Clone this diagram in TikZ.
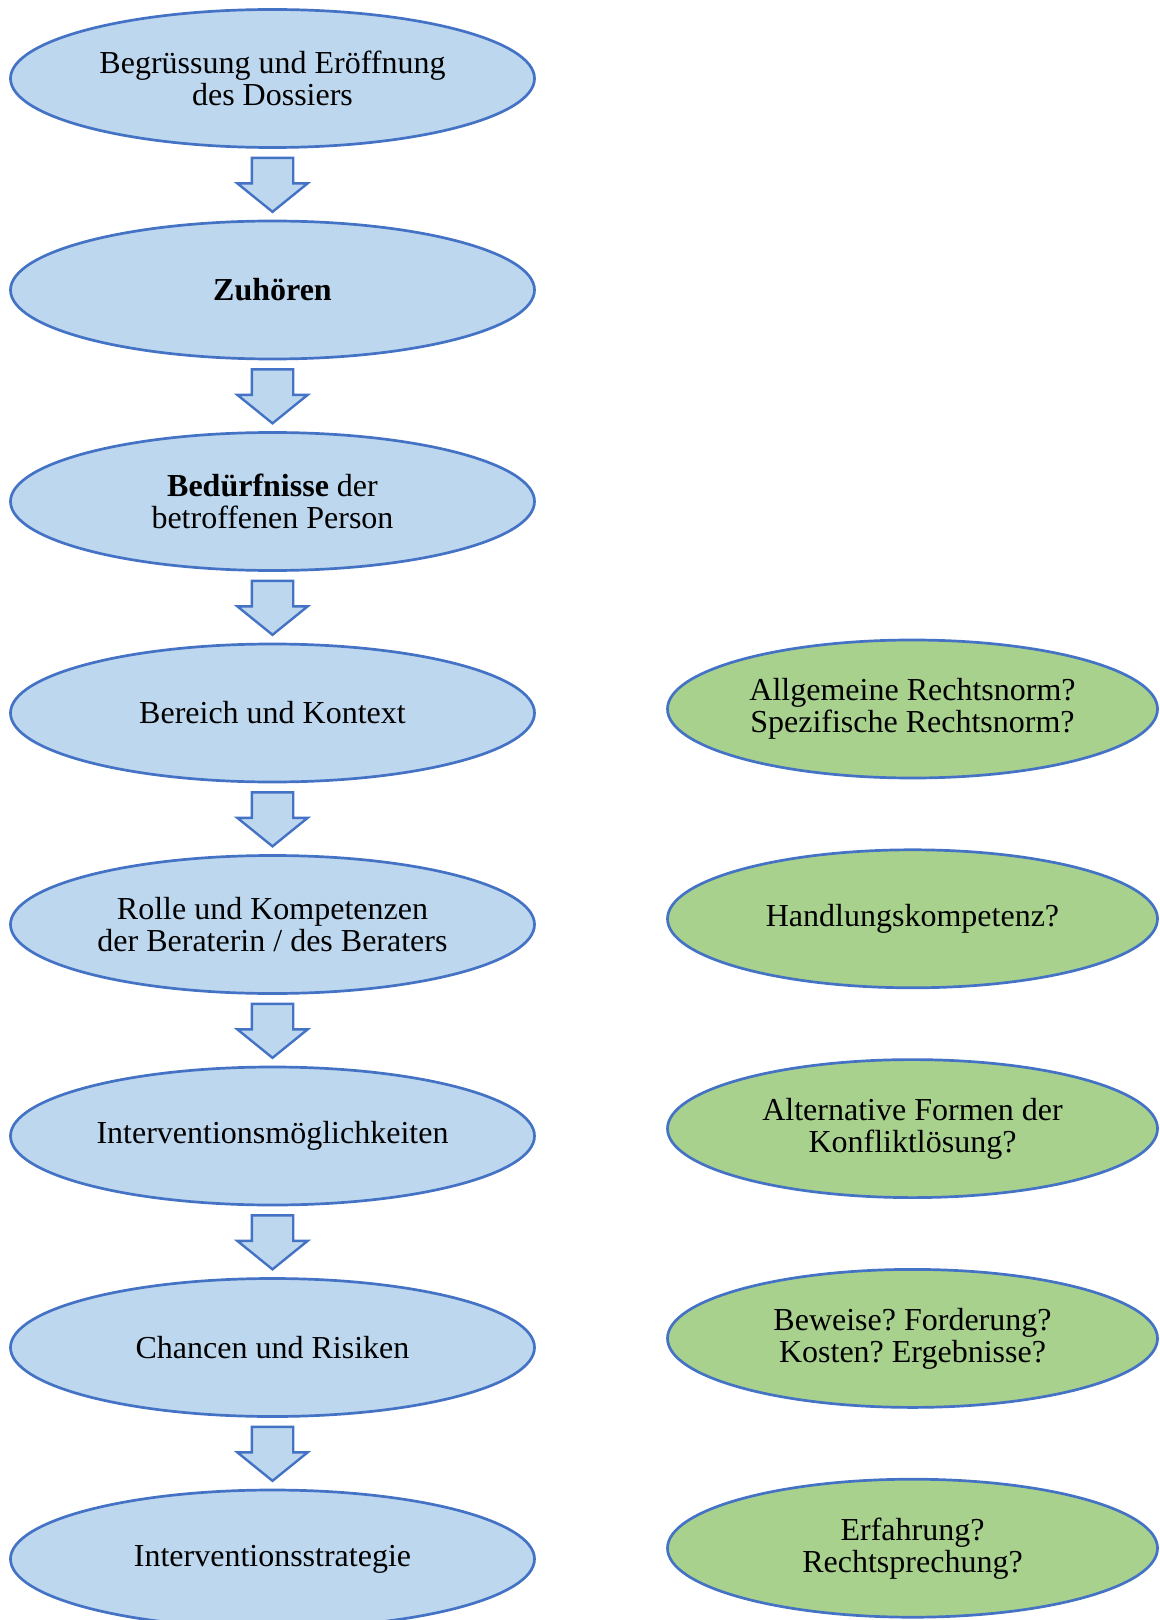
\documentclass[tikz,border=0pt]{standalone}
\usepackage{fontspec}
\setmainfont{Liberation Serif}
\frenchspacing
\usetikzlibrary{shapes.geometric,shapes.arrows,positioning,calc}
\definecolor{stepblue}{HTML}{BDD7EE}
\definecolor{edgeblue}{HTML}{4472C4}
\definecolor{askgreen}{HTML}{A9D18E}
\tikzstyle{phase} = [ellipse, draw=edgeblue, fill=stepblue, line width=1.35pt, minimum width=262pt, minimum height=69pt, inner sep=0pt, align=center, font=\fontsize{16}{16}\selectfont]
\tikzstyle{question} = [phase, fill=askgreen, minimum width=245pt]
\tikzstyle{flowarrow} = [single arrow, draw=edgeblue, fill=stepblue, line width=1.2pt, shape border rotate=270, inner xsep=9.75pt, inner ysep=0pt, minimum height=27pt, single arrow head extend=7.25pt, single arrow tip angle=102, yshift=3.9pt]

\begin{document}
\begin{tikzpicture}[x=0.5pt, y=-0.5pt, node distance=105.75pt]
    \useasboundingbox (0,0) rectangle (1160,1620);
    % steps of the consultation
    \node[phase] (s1) at (272.5,78.5) {Begrüssung und Eröffnung\\des Dossiers};
    \node[phase, below of=s1] (s2) {\textbf{Zuhören}};
    \node[phase, below of=s2] (s3) {\textbf{Bedürfnisse} der\\betroffenen Person};
    \node[phase, below of=s3] (s4) {Bereich und Kontext};
    \node[phase, below of=s4] (s5) {Rolle und Kompetenzen\\der Beraterin / des Beraters};
    \node[phase, below of=s5] (s6) {Interventionsmöglichkeiten};
    \node[phase, below of=s6] (s7) {Chancen und Risiken};
    \node[phase, below of=s7] (s8) {Interventionsstrategie};

    % questions on the right
    \node[question] (q1) at (912.5,709) {Allgemeine Rechtsnorm?\\Spezifische Rechtsnorm?};
    \node[question, below of=q1, node distance=104.9pt] (q2) {Handlungskompetenz?};
    \node[question, below of=q2, node distance=104.9pt] (q3) {Alternative Formen der\\Konfliktlösung?};
    \node[question, below of=q3, node distance=104.9pt] (q4) {Beweise? Forderung?\\Kosten? Ergebnisse?};
    \node[question, below of=q4, node distance=104.9pt] (q5) {Erfahrung?\\Rechtsprechung?};

    % block arrows between the steps
    \node[flowarrow] (a1) at ($(s1)!0.5!(s2)$) {};
    \node[flowarrow] (a2) at ($(s2)!0.5!(s3)$) {};
    \node[flowarrow] (a3) at ($(s3)!0.5!(s4)$) {};
    \node[flowarrow] (a4) at ($(s4)!0.5!(s5)$) {};
    \node[flowarrow] (a5) at ($(s5)!0.5!(s6)$) {};
    \node[flowarrow] (a6) at ($(s6)!0.5!(s7)$) {};
    \node[flowarrow] (a7) at ($(s7)!0.5!(s8)$) {};
\end{tikzpicture}
\end{document}
